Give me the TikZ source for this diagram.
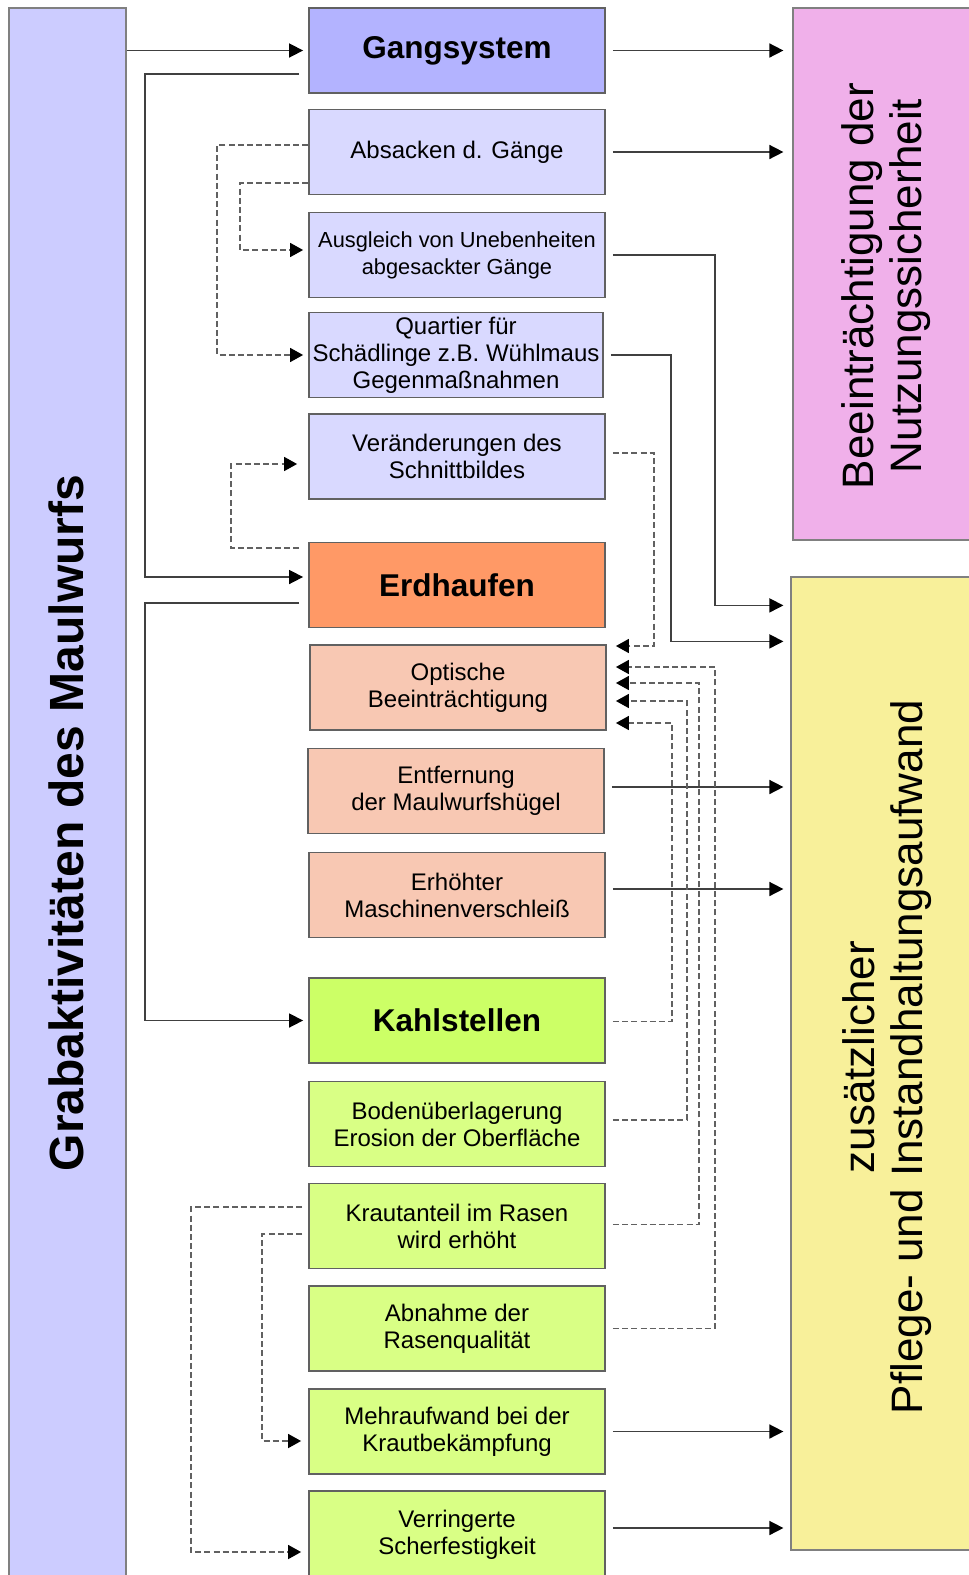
\documentclass[tikz,border=0pt]{standalone}
\usepackage{fontspec}
\setmainfont{Liberation Sans}
\usetikzlibrary{arrows.meta,calc}
\definecolor{cLeft}{HTML}{CCCCFF}
\definecolor{cGang}{HTML}{B3B3FF}
\definecolor{cLav}{HTML}{D9D9FF}
\definecolor{cErd}{HTML}{FF9966}
\definecolor{cSal}{HTML}{F8C8B3}
\definecolor{cKahl}{HTML}{CCFF66}
\definecolor{cLime}{HTML}{D9FF85}
\definecolor{cPink}{HTML}{F0B0EA}
\definecolor{cYel}{HTML}{F8F09A}
\begin{document}
\begin{tikzpicture}[x=0.5pt,y=-0.5pt,
  box/.style={draw=black!62, line width=0.9pt, minimum width=148pt, minimum height=42.5pt,
    inner sep=0pt, align=center, font=\fontsize{12}{13.5}\selectfont, text=black},
  title/.style={box, font=\bfseries\fontsize{15.75}{18}\selectfont},
  bigbox/.style={draw=black!50, line width=0.6pt, inner sep=0pt},
  arr/.style={draw=black!75, line width=0.8pt, -{Triangle[length=7pt,width=7pt,color=black]}, shorten >=2.5pt},
  darr/.style={draw=black!62, line width=0.8pt, dash pattern=on 3pt off 1.6pt,
    -{Triangle[length=6.5pt,width=7pt,color=black]}, shorten >=2.5pt}
]
\useasboundingbox (0,0) rectangle (969,1575);
\fill[white] (0,0) rectangle (969,1575);

% big boxes
\node[bigbox, fill=cLeft, minimum width=58.5pt, minimum height=791pt] (grab) at (67.5,799) {};
\node[rotate=90, font=\bfseries\fontsize{24}{28}\selectfont] (grabtxt) at (66,823) {Grabaktivitäten des Maulwurfs};
\node[bigbox, fill=cPink, minimum width=91pt, minimum height=266pt] (pink) at (884,274) {};
\node[rotate=90, align=center, font=\fontsize{22}{24}\selectfont] (pinktxt) at (886,286) {Beeinträchtigung der\\Nutzungssicherheit};
\node[bigbox, fill=cYel, minimum width=92pt, minimum height=486.5pt] (yel) at (883,1063.5) {};
\node[rotate=90, align=center, font=\fontsize{22}{24}\selectfont] (yeltxt) at (887,1057) {zusätzlicher\\Pflege- und Instandhaltungsaufwand};

% middle column
\node[title, fill=cGang] (gang) at (457,50.5) {Gangsystem};
\node[box, fill=cLav] (abs) at (457,152) {Absacken d. Gänge};
\node[box, fill=cLav, font=\fontsize{10.9}{13.5}\selectfont] (aus) at (457,255) {Ausgleich von Unebenheiten\\abgesackter Gänge};
\node[box, fill=cLav, minimum width=147pt] (quart) at (456,355) {Quartier für\\Schädlinge z.B. Wühlmaus\\Gegenmaßnahmen};
\node[box, fill=cLav] (ver) at (457,456.5) {Veränderungen des\\Schnittbildes};
\node[title, fill=cErd] (erd) at (457,585) {Erdhaufen};
\node[box, fill=cSal] (opt) at (458,687.5) {Optische\\Beeinträchtigung};
\node[box, fill=cSal] (ent) at (456,791) {Entfernung\\der Maulwurfshügel};
\node[box, fill=cSal] (erh) at (457,895) {Erhöhter\\Maschinenverschleiß};
\node[title, fill=cKahl] (kahl) at (457,1020.5) {Kahlstellen};
\node[box, fill=cLime] (boden) at (457,1124) {Bodenüberlagerung\\Erosion der Oberfläche};
\node[box, fill=cLime] (kraut) at (457,1226) {Krautanteil im Rasen\\wird erhöht};
\node[box, fill=cLime] (abn) at (457,1328.5) {Abnahme der\\Rasenqualität};
\node[box, fill=cLime] (mehr) at (457,1431.5) {Mehraufwand bei der\\Krautbekämpfung};
\node[box, fill=cLime, minimum height=44pt] (verr) at (457,1535) {Verringerte\\Scherfestigkeit};

% helper coordinates
\coordinate (entO) at ($(ent.east)+(0,-4)$);
\coordinate (erhO) at ($(erh.east)+(0,-6)$);
\coordinate (verrO) at ($(verr.east)+(0,-7)$);

% solid connectors
\draw[arr] (grab.east |- gang.west) -- (gang.west);
\draw[arr] ($(gang.west)+(-9,23.5)$) -- ++(-154,0) |- ($(erd.west)+(0,-8)$);
\draw[arr] ($(erd.west)+(-9,18)$) -- ++(-154,0) |- (kahl.west);
\draw[arr, shorten <=3.5pt, shorten >=4.5pt] (gang.east) -- (gang.east -| pink.west);
\draw[arr, shorten <=3.5pt, shorten >=4.5pt] (abs.east) -- (abs.east -| pink.west);
\draw[arr, shorten <=3.5pt, shorten >=3.5pt] (aus.east) -- ++(109,0) |- ($(yel.north west)+(0,29)$);
\draw[arr, shorten <=3.5pt, shorten >=3.5pt] (quart.east) -- ++(67,0) |- ($(yel.north west)+(0,65)$);
\draw[arr, shorten <=3.5pt, shorten >=3.5pt] (entO) -- (entO -| yel.west);
\draw[arr, shorten <=3.5pt, shorten >=3.5pt] (erhO) -- (erhO -| yel.west);
\draw[arr, shorten <=3.5pt, shorten >=3.5pt] (mehr.east) -- (mehr.east -| yel.west);
\draw[arr, shorten <=3.5pt, shorten >=3.5pt] (verrO) -- (verrO -| yel.west);

% dashed connectors, left
\draw[darr] ($(abs.west)+(0,-7)$) -- ++(-91,0) |- (quart.west);
\draw[darr] ($(abs.west)+(0,31)$) -- ++(-68,0) |- ($(aus.west)+(0,-5)$);
\draw[darr, shorten >=5.5pt] ($(erd.west)+(-9,-37)$) -- ++(-68,0) |- ($(ver.west)+(0,7.5)$);
\draw[darr, shorten >=3.5pt] ($(kraut.west)+(-6,-19)$) -- ++(-111,0) |- ($(verr.west)+(0,17)$);
\draw[darr, shorten >=3.5pt] ($(kraut.west)+(-6,8)$) -- ++(-40,0) |- ($(mehr.west)+(0,9.5)$);

% dashed connectors, right (into Optische)
\draw[darr, shorten >=4.5pt] ($(ver.east)+(7,-3.5)$) -- ++(41,0) |- ($(opt.east)+(0,-41.5)$);
\draw[darr, shorten >=4.5pt] ($(kahl.east)+(7,1)$) -- ++(59,0) |- ($(opt.east)+(0,35.5)$);
\draw[darr, shorten >=4.5pt] ($(boden.east)+(7,-4)$) -- ++(74,0) |- ($(opt.east)+(0,13.5)$);
\draw[darr, shorten >=4.5pt] ($(kraut.east)+(7,-1.5)$) -- ++(86,0) |- ($(opt.east)+(0,-4.5)$);
\draw[darr, shorten >=4.5pt] ($(abn.east)+(7,0)$) -- ++(102,0) |- ($(opt.east)+(0,-20.5)$);
\end{tikzpicture}
\end{document}
